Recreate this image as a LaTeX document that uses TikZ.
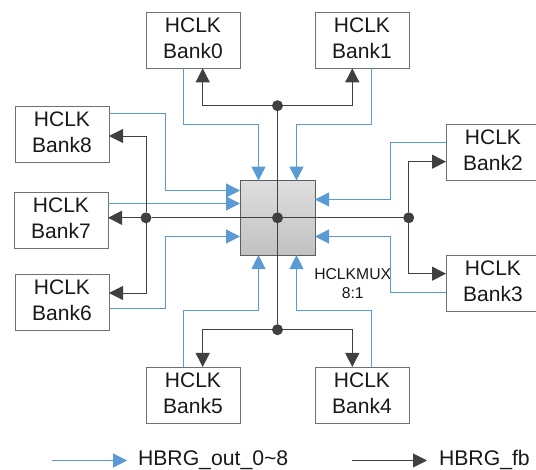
\documentclass[tikz,border=0pt]{standalone}
\usepackage{fontspec}
\setmainfont{Liberation Sans}
\usetikzlibrary{arrows.meta}
\definecolor{bluel}{HTML}{5B9BD5}
\definecolor{darkl}{HTML}{404040}
\definecolor{boxl}{HTML}{707070}
\tikzset{
  banktext/.style={inner sep=0pt,outer sep=0pt,align=center,text=black!90,font=\fontsize{21}{26.5}\selectfont},
  bank/.style={banktext,draw=boxl,line width=0.9pt,fill=white,minimum width=94pt,minimum height=56pt},
  mux/.style={draw=darkl!85,line width=1pt,top color=black!13,bottom color=black!24,minimum width=75pt,minimum height=74.5pt,inner sep=0pt,outer sep=0pt},
  dot/.style={circle,fill=darkl,minimum size=11pt,inner sep=0pt,outer sep=0pt},
  bluearrow/.style={draw=bluel,line width=1.2pt,-{Triangle[length=14pt,width=14pt,fill=bluel]}},
  darkarrow/.style={draw=darkl,line width=0.9pt,-{Triangle[length=14pt,width=14pt,fill=darkl]}},
  darkline/.style={draw=darkl,line width=0.9pt},
  legendtext/.style={anchor=west,inner sep=0pt,outer sep=0pt,text=black!90,font=\fontsize{21.2}{24}\selectfont},
  muxlabel/.style={inner sep=0pt,outer sep=0pt,align=center,text=black!90,font=\fontsize{15.7}{19}\selectfont}
}
\begin{document}
\begin{tikzpicture}[x=1pt,y=-1pt]
\useasboundingbox (0,0) rectangle (536,470);
\clip (0,0) rectangle (536,470);
\node[bank] (b0) at (193,40.3) {};
\node[bank] (b1) at (362,40.3) {};
\node[bank] (b8) at (62,134.2) {};
\node[bank] (b7) at (61,220.3) {};
\node[bank] (b6) at (62,302.3) {};
\node[bank,anchor=west] (b2) at (446,152.2) {};
\node[bank,anchor=west] (b3) at (446,283) {};
\node[bank] (b5) at (193,395) {};
\node[bank] (b4) at (362,395) {};
\node[banktext] (t0) at (193,38.5) {HCLK\\Bank0};
\node[banktext] (t1) at (362,38.5) {HCLK\\Bank1};
\node[banktext] (t8) at (62,132.4) {HCLK\\Bank8};
\node[banktext] (t7) at (61,218.5) {HCLK\\Bank7};
\node[banktext] (t6) at (62,300.5) {HCLK\\Bank6};
\node[banktext] (t2) at (493,150.4) {HCLK\\Bank2};
\node[banktext] (t3) at (493,281.2) {HCLK\\Bank3};
\node[banktext] (t5) at (193,393.2) {HCLK\\Bank5};
\node[banktext] (t4) at (362,393.2) {HCLK\\Bank4};
\node[mux] (m) at (277.5,217.8) {};
\node[muxlabel] (ml) at (352.7,284) {HCLKMUX\\8:1};
% blue inputs
\draw[bluearrow] ([xshift=-9.5pt]b0.south) |- (258.5,124.5) -- ([xshift=-19pt]m.north);
\draw[bluearrow] ([xshift=9.5pt]b1.south) |- (296.5,124.5) -- ([xshift=19pt]m.north);
\draw[bluearrow] ([yshift=20.7pt]b8.east) -| (165.5,190.5) -- (m.west |- 0,190.5);
\draw[bluearrow] (b7.east |- 0,203.5) -- (m.west |- 0,203.5);
\draw[bluearrow] ([yshift=-6.2pt]b6.east) -| (165.5,236.5) -- (m.west |- 0,236.5);
\draw[bluearrow] (b2.west |- 0,142.5) -| (390.5,199.5) -- (m.east |- 0,199.5);
\draw[bluearrow] (b3.west |- 0,292.5) -| (390.5,236.5) -- (m.east |- 0,236.5);
\draw[bluearrow] ([xshift=-9.5pt]b5.north) |- (258.5,310.5) -- ([xshift=-19pt]m.south);
\draw[bluearrow] ([xshift=9.5pt]b4.north) |- (296.5,310.5) -- ([xshift=19pt]m.south);
% dots
\node[dot] (dc) at (m.center) {};
\node[dot] (dt) at (277.5,105.7) {};
\node[dot] (db) at (277.5,329.7) {};
\node[dot] (dl) at (146,217.8) {};
\node[dot] (dr) at (408.7,217.8) {};
% dark feedback
\draw[darkline] (dt) -- (db);
\draw[darkline] (dl) -- (dr);
\draw[darkarrow] (dt) -| ([xshift=9.7pt]b0.south);
\draw[darkarrow] (dt) -| ([xshift=-9.7pt]b1.south);
\draw[darkarrow] (db) -| ([xshift=9.7pt]b5.north);
\draw[darkarrow] (db) -| ([xshift=-9.7pt]b4.north);
\draw[darkarrow] (dl) |- (b8.east |- 0,136);
\draw[darkarrow] (dl) -- (b7.east |- dl);
\draw[darkarrow] (dl) |- (b6.east |- 0,293);
\draw[darkarrow] (dr) |- (b2.west |- 0,161.7);
\draw[darkarrow] (dr) |- (b3.west |- 0,273.7);
% legend
\coordinate (lb0) at (52,460.5);
\node[legendtext] (lbt) at (138,460.4) {HBRG\_out\_0\textasciitilde8};
\coordinate (lb1) at (127,460.5);
\draw[bluearrow] (lb0) -- (lb1);
\coordinate (ld0) at (352,460.5);
\coordinate (ld1) at (427,460.5);
\node[legendtext] (ldt) at (439,460.4) {HBRG\_fb};
\draw[darkarrow] (ld0) -- (ld1);
\end{tikzpicture}
\end{document}
